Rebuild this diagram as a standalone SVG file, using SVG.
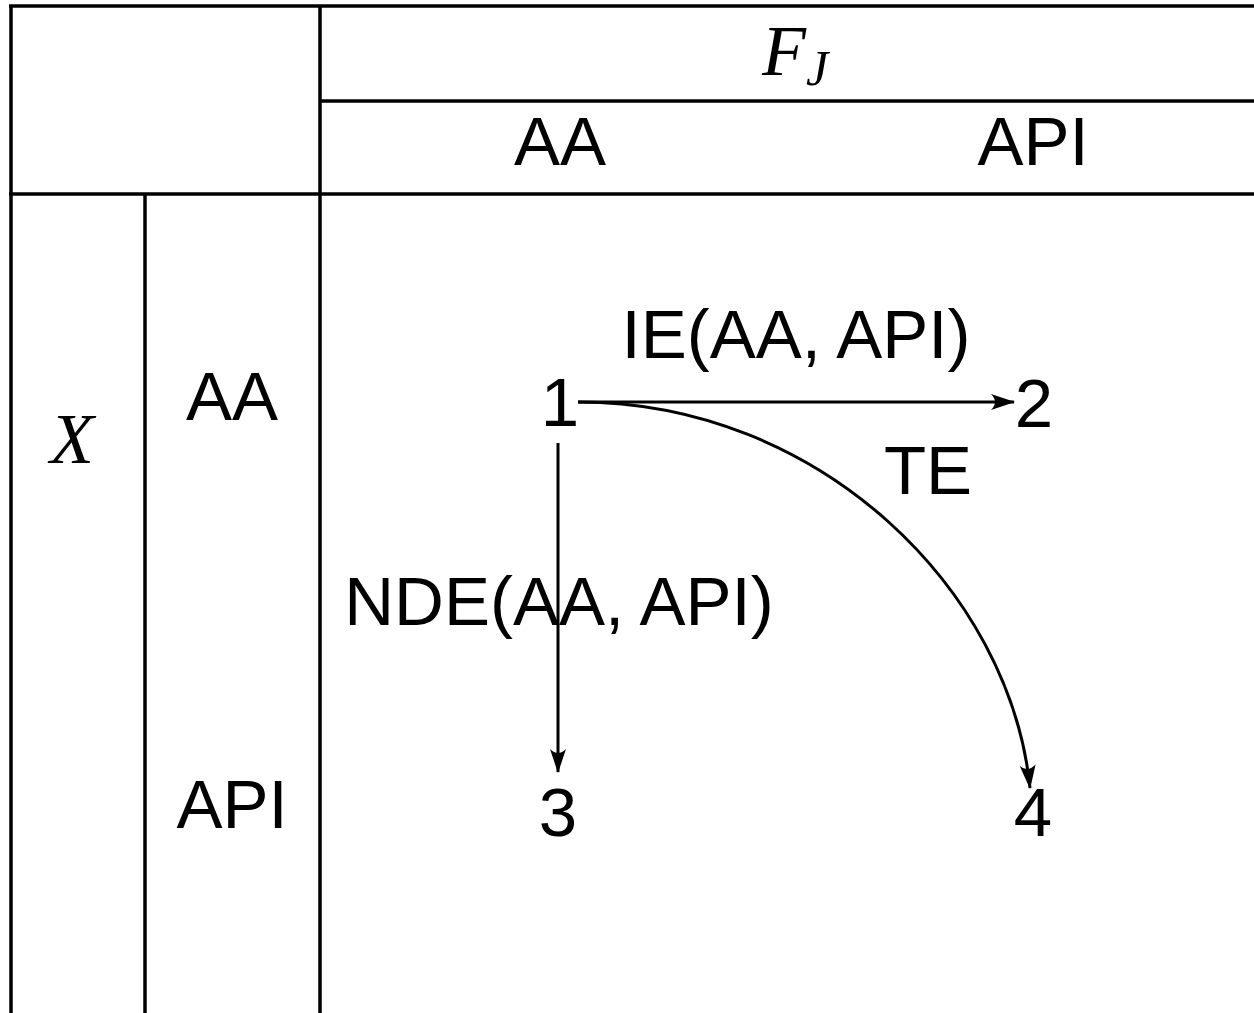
<svg xmlns="http://www.w3.org/2000/svg" width="1254" height="1013" viewBox="0 0 1254 1013">
<style>
.grid{stroke:#000;stroke-width:3.5;fill:none}
.t{font-family:"Liberation Sans",Arial,sans-serif;font-size:69px;fill:#000}
.m{font-family:"Liberation Serif","Times New Roman",serif;font-style:italic;font-size:72px;fill:#000}
.c{stroke:#000;stroke-width:3;fill:none}
</style>
<defs>
<marker id="ah" markerWidth="28" markerHeight="20" refX="23" refY="8" orient="auto" markerUnits="userSpaceOnUse">
<path d="M0,0 Q8,8 0,16 L24,8 Z" fill="#000"/>
</marker>
</defs>
<rect width="1254" height="1013" fill="#fff"/>
<g id="table">
<line class="grid" x1="9" y1="6" x2="1254" y2="6"/>
<line class="grid" x1="11" y1="5" x2="11" y2="1013"/>
<line class="grid" x1="320" y1="5" x2="320" y2="1013"/>
<line class="grid" x1="320" y1="101" x2="1254" y2="101"/>
<line class="grid" x1="9" y1="194" x2="1254" y2="194"/>
<line class="grid" x1="145" y1="194" x2="145" y2="1013"/>
</g>
<g id="headers">
<text class="m" x="795" y="75" text-anchor="middle">F<tspan font-size="50" dy="10">J</tspan></text>
<text class="t" x="560" y="165" text-anchor="middle">AA</text>
<text class="t" x="1033" y="165" text-anchor="middle">API</text>
<text class="m" x="72" y="463" text-anchor="middle">X</text>
<text class="t" x="232" y="420" text-anchor="middle">AA</text>
<text class="t" x="232" y="828" text-anchor="middle">API</text>
</g>
<g id="n1"><text class="t" x="560" y="426" text-anchor="middle">1</text></g>
<g id="n2"><text class="t" x="1034" y="427" text-anchor="middle">2</text></g>
<g id="n3"><text class="t" x="558" y="836" text-anchor="middle">3</text></g>
<g id="n4"><text class="t" x="1033" y="836" text-anchor="middle">4</text></g>
<g id="connectors">
<line class="c" x1="578" y1="402" x2="1014" y2="402" marker-end="url(#ah)"/>
<line class="c" x1="558" y1="443" x2="558" y2="772" marker-end="url(#ah)"/>
<path class="c" d="M578,402 C820,402 1010,590 1030,788" marker-end="url(#ah)"/>
</g>
<g id="labels">
<text class="t" x="796" y="358" text-anchor="middle">IE(AA, API)</text>
<text class="t" x="928" y="494" text-anchor="middle">TE</text>
<text class="t" x="559" y="625" text-anchor="middle">NDE(AA, API)</text>
</g>
</svg>
